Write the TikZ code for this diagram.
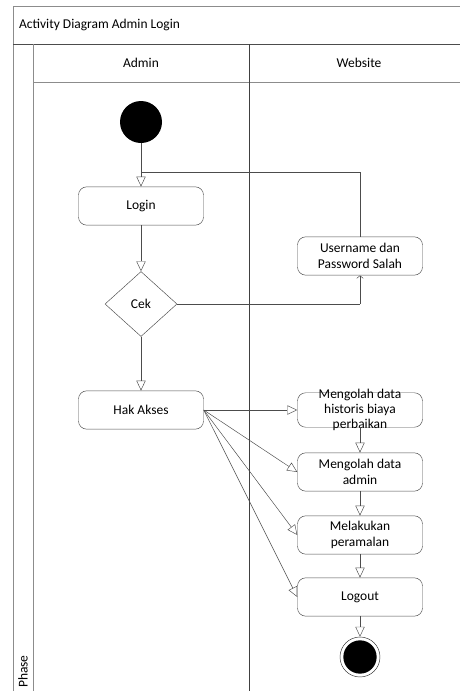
\documentclass[tikz,border=0pt]{standalone}
\usepackage{fontspec}
\setmainfont{Carlito}
\usepackage{tikz}
\usetikzlibrary{arrows.meta,shapes.geometric}

\tikzset{
  aktivitas/.style = {draw=black!70, rounded corners=7pt, minimum width=3.75cm, minimum height=1.15cm, align=center, inner sep=1pt, font=\fontsize{11.5}{13.6}\selectfont},
  panah/.style = {draw=black!70, -{Triangle[open, length=0.3cm, width=0.28cm]}},
  rahmen/.style = {draw=black!45, line width=0.6pt}
}

\begin{document}
\begin{tikzpicture}[x=0.03cm, y=-0.03cm, font=\fontsize{11.5}{13.6}\selectfont]
            \useasboundingbox (0,0) rectangle (460,691);
            \draw [rahmen] (460,6) -- (13,6) -- (13,691);           %Rahmen
            \draw [black!70] (13,44) -- (460,44);                   %Titel
            \draw [rahmen] (33,44) -- (33,691);                     %Phase
            \draw [rahmen] (33,82) -- (460,82);                     %Kopf
            \draw [black!75] (249,44) -- (249,691);                 %Bahn
            \node [anchor=west] (judul) at (15,25) {Activity Diagram Admin Login};
            \node (admin) at (141,63) {Admin};
            \node (website) at (359,63) {Website};
            \node [rotate=90, anchor=west] (phase) at (23,692) {Phase};

            \node [circle, fill=black, minimum size=1.26cm] (mulai) at (141,122) {};
            \node [aktivitas] (login) at (141,206) {Login};
            \node [draw=black!70, diamond, minimum width=2.16cm, minimum height=1.95cm, inner sep=0pt] (cek) at (141,304) {Cek};
            \node [aktivitas] (salah) at (360,256) {Username dan\\Password Salah};
            \node [aktivitas] (hak) at (141,410) {Hak Akses};
            \node [aktivitas, minimum height=0cm, inner ysep=-3pt, font=\fontsize{11.5}{12.8}\selectfont] (historis) at (360,410) {Mengolah data\\historis biaya\\perbaikan};
            \node [aktivitas] (kelola) at (360,472) {Mengolah data\\admin};
            \node [aktivitas] (ramal) at (360,535) {Melakukan\\peramalan};
            \node [aktivitas] (logout) at (360,597) {Logout};
            \node [circle, draw=black!80, minimum size=1.2cm, inner sep=0pt] (selesai) at (360,657) {};
            \node [circle, fill=black, minimum size=1.0cm] (selesai2) at (360,657) {};

            \coordinate (balik) at (141,172);
            \coordinate (belok) at (360,304);
            \draw [panah] (mulai) -- (login);
            \draw [draw=black!70] (salah.north) |- (balik);
            \draw [panah] (login) -- (cek);
            \draw [draw=black!70] (cek.east) -- (belok);
            \draw [draw=black!70, -{Straight Barb[length=0.08cm, width=0.2cm]}] (belok) -- (salah.south);
            \draw [panah] (cek) -- (hak);
            \draw [panah] (hak.east) -- (historis.west);
            \draw [panah] (hak.east) -- (kelola.west);
            \draw [panah] (hak.east) -- (ramal.west);
            \draw [panah] (hak.east) -- (logout.west);
            \draw [panah] (historis) -- (kelola);
            \draw [panah] (kelola) -- (ramal);
            \draw [panah] (ramal) -- (logout);
            \draw [panah] (logout) -- (selesai);
        \end{tikzpicture}
\end{document}
